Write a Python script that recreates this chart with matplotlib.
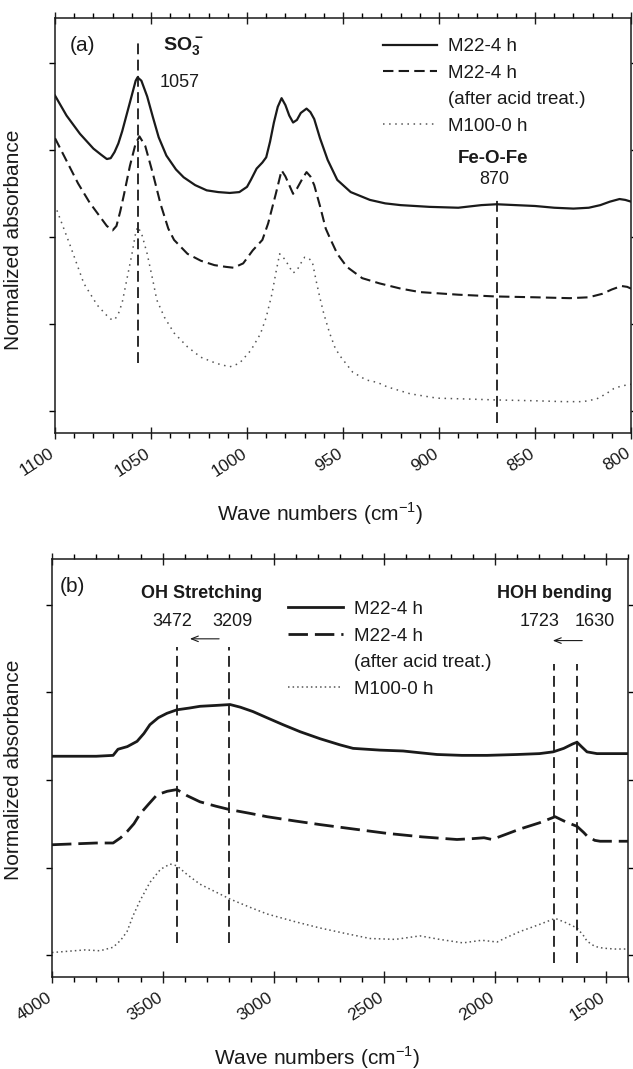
import matplotlib
matplotlib.use("Agg")
import matplotlib.pyplot as plt
from matplotlib.lines import Line2D
from matplotlib.ticker import MultipleLocator, NullFormatter
from matplotlib.transforms import ScaledTranslation

plt.rcParams['font.family'] = ['Liberation Sans', 'DejaVu Sans']
plt.rcParams['mathtext.fontset'] = 'custom'
plt.rcParams['mathtext.rm'] = 'Liberation Sans'
plt.rcParams['mathtext.bf'] = 'Liberation Sans:bold'

# ---- panel (a): 1100-800 cm-1 ----
wn_a_solid = [1100, 1094, 1087, 1080, 1076, 1073, 1071, 1069, 1067, 1065, 1061, 1058, 1057, 1055,
              1052, 1049, 1046, 1042, 1037, 1033, 1027, 1021, 1015, 1009, 1004, 1000, 998, 995, 992,
              990, 988, 986, 984, 982, 980, 978, 976, 974, 972, 969, 967, 965, 962, 958, 953, 946,
              936, 928, 920, 905, 890, 878, 870, 860, 850, 840, 830, 822, 816, 811, 806, 803, 800]
abs_a_solid = [3.63, 3.40, 3.19, 3.02, 2.95, 2.90, 2.91, 2.98, 3.08, 3.22, 3.55, 3.80, 3.84, 3.80,
               3.62, 3.38, 3.15, 2.94, 2.78, 2.69, 2.60, 2.54, 2.52, 2.51, 2.52, 2.58, 2.66, 2.79, 2.86,
               2.92, 3.10, 3.32, 3.50, 3.60, 3.52, 3.40, 3.32, 3.35, 3.43, 3.48, 3.44, 3.36, 3.14, 2.89,
               2.66, 2.52, 2.43, 2.39, 2.37, 2.35, 2.34, 2.37, 2.38, 2.37, 2.36, 2.34, 2.33, 2.34, 2.37,
               2.41, 2.44, 2.43, 2.41]

wn_a_acid = [1100, 1094, 1088, 1082, 1076, 1073, 1070, 1068, 1066, 1064, 1061, 1058, 1056, 1053,
             1049, 1045, 1041, 1038, 1031, 1024, 1017, 1011, 1007, 1002, 997, 992, 989, 985, 982,
             980, 978, 976, 974, 971, 969, 967, 965, 962, 959, 957, 953, 948, 940, 931, 920, 910,
             890, 871, 850, 832, 822, 815, 810, 805, 802, 800]
abs_a_acid = [3.14, 2.88, 2.62, 2.40, 2.22, 2.13, 2.08, 2.13, 2.30, 2.50, 2.82, 3.08, 3.16, 3.05,
              2.73, 2.38, 2.10, 1.97, 1.81, 1.73, 1.68, 1.66, 1.65, 1.70, 1.85, 1.97, 2.16, 2.50, 2.77,
              2.70, 2.60, 2.50, 2.56, 2.68, 2.75, 2.70, 2.60, 2.36, 2.10, 2.00, 1.81, 1.66, 1.53, 1.47,
              1.41, 1.37, 1.34, 1.32, 1.31, 1.30, 1.31, 1.35, 1.40, 1.44, 1.43, 1.41]

wn_a_m100 = [1099, 1092, 1085, 1078, 1073, 1071, 1069, 1067, 1065, 1063, 1060, 1058, 1057, 1055,
             1052, 1049, 1047, 1043, 1038, 1031, 1024, 1016, 1009, 1004, 998, 993, 990, 987, 985,
             983, 980, 978, 976, 974, 972, 970, 968, 966, 964, 962, 960, 957, 954, 951, 945, 938,
             932, 927, 915, 901, 885, 871, 850, 835, 825, 818, 813, 809, 805, 800]
abs_a_m100 = [2.31, 1.90, 1.47, 1.22, 1.10, 1.06, 1.05, 1.12, 1.25, 1.47, 1.80, 2.05, 2.12, 2.05,
              1.81, 1.50, 1.28, 1.08, 0.90, 0.74, 0.62, 0.55, 0.51, 0.55, 0.70, 0.89, 1.08, 1.35, 1.59,
              1.81, 1.74, 1.66, 1.59, 1.62, 1.70, 1.77, 1.76, 1.72, 1.50, 1.30, 1.12, 0.90, 0.72, 0.62,
              0.45, 0.36, 0.33, 0.28, 0.20, 0.15, 0.14, 0.13, 0.12, 0.11, 0.11, 0.14, 0.20, 0.26, 0.29,
              0.31]

# ---- panel (b): 4000-1400 cm-1 ----
wn_b_solid = [4000, 3900, 3800, 3724, 3702, 3660, 3616, 3585, 3558, 3520, 3481, 3436, 3380, 3332,
              3260, 3196, 3150, 3093, 3030, 2957, 2880, 2790, 2700, 2641, 2520, 2415, 2340, 2262,
              2150, 2036, 1900, 1800, 1738, 1690, 1650, 1630, 1610, 1585, 1540, 1480, 1400]
abs_b_solid = [2.27, 2.27, 2.27, 2.28, 2.35, 2.38, 2.44, 2.53, 2.63, 2.71, 2.76, 2.80, 2.82, 2.84,
               2.85, 2.86, 2.83, 2.78, 2.71, 2.63, 2.55, 2.47, 2.40, 2.36, 2.34, 2.33, 2.31, 2.29,
               2.28, 2.28, 2.29, 2.30, 2.32, 2.36, 2.41, 2.43, 2.38, 2.32, 2.30, 2.30, 2.30]

wn_b_acid = [4000, 3900, 3800, 3724, 3690, 3661, 3630, 3603, 3565, 3526, 3480, 3436, 3390, 3332,
             3260, 3196, 3110, 3029, 2900, 2790, 2640, 2488, 2330, 2172, 2100, 2050, 2014, 1950,
             1887, 1800, 1729, 1680, 1630, 1600, 1585, 1550, 1526, 1460, 1400]
abs_b_acid = [1.26, 1.27, 1.28, 1.28, 1.34, 1.41, 1.50, 1.61, 1.72, 1.83, 1.87, 1.89, 1.82, 1.75,
              1.70, 1.66, 1.62, 1.58, 1.53, 1.49, 1.44, 1.39, 1.35, 1.32, 1.33, 1.34, 1.32, 1.38,
              1.44, 1.51, 1.58, 1.52, 1.47, 1.40, 1.36, 1.31, 1.30, 1.30, 1.30]

wn_b_m100 = [4000, 3900, 3850, 3783, 3724, 3690, 3661, 3634, 3603, 3558, 3510, 3467, 3436, 3390,
             3332, 3260, 3196, 3110, 3029, 2900, 2790, 2680, 2564, 2450, 2339, 2250, 2145, 2060,
             1991, 1950, 1887, 1800, 1729, 1680, 1630, 1600, 1585, 1550, 1513, 1460, 1400]
abs_b_m100 = [0.03, 0.05, 0.06, 0.05, 0.09, 0.17, 0.27, 0.45, 0.62, 0.83, 0.98, 1.04, 1.02, 0.92,
              0.81, 0.72, 0.64, 0.55, 0.47, 0.38, 0.31, 0.25, 0.19, 0.18, 0.22, 0.18, 0.14, 0.17,
              0.15, 0.20, 0.27, 0.35, 0.42, 0.37, 0.31, 0.22, 0.16, 0.10, 0.08, 0.07, 0.07]

# marker lines: position, ymin, ymax
so3_line = (1057, 0.55, 4.23)
feofe_line = (870, -0.13, 2.46)
oh_lines = [3436, 3202]
hoh_lines = [1735, 1632]

labels = ['M22-4 h', 'M22-4 h', '(after acid treat.)', 'M100-0 h']

ink = '#1a1a1a'
fig = plt.figure(figsize=(6.33, 10.69), dpi=100)
ax1 = fig.add_axes([0.0869, 0.595, 0.91, 0.388])
ax2 = fig.add_axes([0.0821, 0.086, 0.91, 0.391])


def style_axis(ax, major, minor):
    ax.xaxis.set_major_locator(MultipleLocator(major))
    ax.xaxis.set_minor_locator(MultipleLocator(minor))
    ax.yaxis.set_major_locator(MultipleLocator(1))
    ax.yaxis.set_major_formatter(NullFormatter())
    ax.set_ylim(-0.25, 4.52)
    ax.tick_params(axis='x', which='major', direction='inout', length=8, width=1.0,
                   top=True, bottom=True, labelsize=12.5, pad=3, colors=ink)
    ax.tick_params(axis='x', which='minor', direction='out', length=3.5, width=1.0,
                   top=True, bottom=True)
    ax.tick_params(axis='y', which='major', direction='out', length=4.5, width=1.0,
                   left=True, right=True)
    shift = ScaledTranslation(-0.06, -0.03, fig.dpi_scale_trans)
    for lab in ax.get_xticklabels():
        lab.set_rotation(33)
        lab.set_ha('right')
        lab.set_rotation_mode('anchor')
        lab.set_transform(lab.get_transform() + shift)
    for s in ax.spines.values():
        s.set_linewidth(1.1)
        s.set_color(ink)
    ax.set_xlabel('Wave numbers (cm$^{-1}$)', fontsize=15, color=ink)
    ax.set_ylabel('Normalized absorbance', fontsize=15, color=ink)


# panel (a)
ax1.plot(wn_a_solid, abs_a_solid, color=ink, lw=1.6, label=labels[0])
ax1.plot(wn_a_acid, abs_a_acid, color=ink, lw=1.5, dashes=(5, 2.5), label=labels[1])
ax1.plot(wn_a_m100, abs_a_m100, color='#555555', lw=1.1, ls=(0, (1, 3)), label=labels[3])
ax1.vlines(so3_line[0], so3_line[1], so3_line[2], colors=ink, lw=1.3, linestyles=(0, (6, 3)))
ax1.vlines(feofe_line[0], feofe_line[1], feofe_line[2], colors=ink, lw=1.3, linestyles=(0, (6, 3)))
ax1.set_xlim(1100, 800)
style_axis(ax1, 50, 10)
ax1.xaxis.set_label_coords(0.46, -0.162)
ax1.yaxis.set_label_coords(-0.056, 0.465)

ax1.text(0.047, 0.935, '(a)', transform=ax1.transAxes, fontsize=15, ha='center', va='center', color=ink)
ax1.text(1033, 4.2, r'$\mathbf{SO_3^-}$', fontsize=14, ha='center', va='center', color=ink)
ax1.text(1035, 3.78, '1057', fontsize=13, ha='center', va='center', color=ink)
ax1.text(872, 2.91, 'Fe-O-Fe', fontsize=13.5, fontweight='bold', ha='center', va='center', color=ink)
ax1.text(871, 2.66, '870', fontsize=13, ha='center', va='center', color=ink)

h, l = ax1.get_legend_handles_labels()
blank = Line2D([], [], color='none')
ax1.legend([h[0], h[1], blank, h[2]], labels, loc='upper left', bbox_to_anchor=(0.569, 0.952),
           frameon=False, fontsize=13.5, handlelength=2.9, handletextpad=0.6,
           labelspacing=0.5, borderpad=0, borderaxespad=0, labelcolor=ink)

# panel (b)
ax2.plot(wn_b_solid, abs_b_solid, color=ink, lw=2.0, label=labels[0])
ax2.plot(wn_b_acid, abs_b_acid, color=ink, lw=2.0, dashes=(7, 2.5), label=labels[1])
ax2.plot(wn_b_m100, abs_b_m100, color='#555555', lw=1.1, ls=(0, (1, 2)), label=labels[3])
ax2.vlines(oh_lines, 0.14, 3.52, colors=ink, lw=1.3, linestyles=(0, (6, 3)))
ax2.vlines(hoh_lines, -0.09, 3.32, colors=ink, lw=1.3, linestyles=(0, (6, 3)))
ax2.set_xlim(4000, 1400)
style_axis(ax2, 500, 100)
ax2.xaxis.set_label_coords(0.46, -0.16)
ax2.yaxis.set_label_coords(-0.05, 0.495)

ax2.text(0.035, 0.935, '(b)', transform=ax2.transAxes, fontsize=15, ha='center', va='center', color=ink)
ax2.text(3323, 4.13, 'OH Stretching', fontsize=13, fontweight='bold', ha='center', va='center', color=ink)
ax2.text(3458, 3.81, '3472', fontsize=13, ha='center', va='center', color=ink)
ax2.text(3187, 3.81, '3209', fontsize=13, ha='center', va='center', color=ink)
ax2.annotate('', xy=(3390, 3.61), xytext=(3233, 3.61),
             arrowprops=dict(arrowstyle='->,head_length=0.5,head_width=0.2', lw=0.8, color=ink))
ax2.text(1734, 4.13, 'HOH bending', fontsize=13, fontweight='bold', ha='center', va='center', color=ink)
ax2.text(1797, 3.81, '1723', fontsize=13, ha='center', va='center', color=ink)
ax2.text(1549, 3.81, '1630', fontsize=13, ha='center', va='center', color=ink)
ax2.annotate('', xy=(1752, 3.59), xytext=(1594, 3.59),
             arrowprops=dict(arrowstyle='->,head_length=0.5,head_width=0.2', lw=0.8, color=ink))

h, l = ax2.get_legend_handles_labels()
ax2.legend([h[0], h[1], blank, h[2]], labels, loc='upper left', bbox_to_anchor=(0.41, 0.90),
           frameon=False, fontsize=13.5, handlelength=2.9, handletextpad=0.6,
           labelspacing=0.5, borderpad=0, borderaxespad=0, labelcolor=ink)

fig.savefig('out.png', dpi=100)
